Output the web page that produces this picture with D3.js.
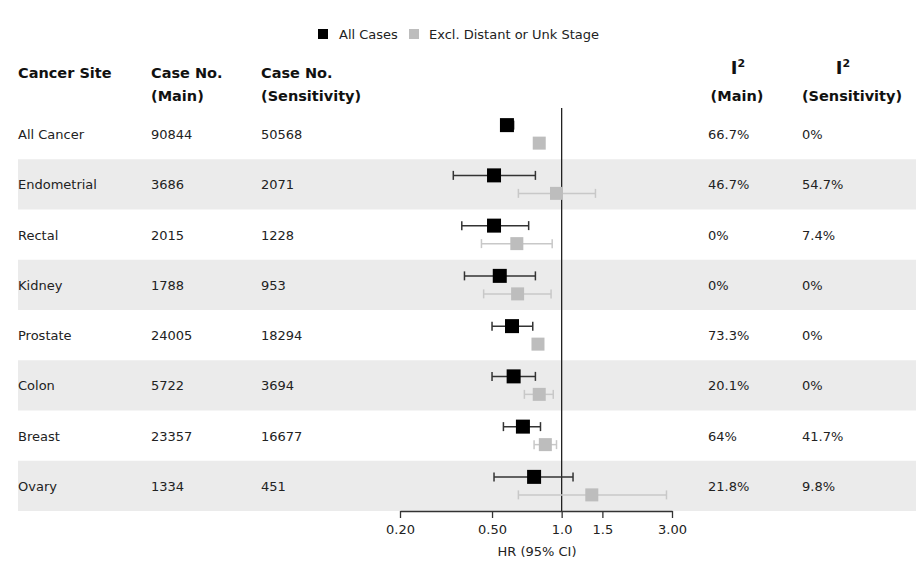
<!DOCTYPE html>
<html><head><meta charset="utf-8">
<script src="https://cdn.jsdelivr.net/npm/d3@7"></script>
<style>body{margin:0;background:#fff}svg{display:block;font-family:"DejaVu Sans",sans-serif}</style>
</head><body><svg id="c" width="918" height="579"></svg>
<script>
const sites = ["All Cancer","Endometrial","Rectal","Kidney","Prostate","Colon","Breast","Ovary"];
const casesMain = [90844,3686,2015,1788,24005,5722,23357,1334];
const casesSens = [50568,2071,1228,953,18294,3694,16677,451];
const i2Main = ["66.7%","46.7%","0%","0%","73.3%","20.1%","64%","21.8%"];
const i2Sens = ["0%","54.7%","7.4%","0%","0%","0%","41.7%","9.8%"];
const hrMain = [0.58,0.51,0.51,0.54,0.61,0.62,0.68,0.76];
const loMain = [0.55,0.34,0.37,0.38,0.50,0.50,0.56,0.51];
const hiMain = [0.62,0.77,0.72,0.77,0.75,0.77,0.81,1.12];
const hrSens = [0.80,0.95,0.64,0.645,0.79,0.80,0.85,1.35];
const loSens = [0.78,0.65,0.45,0.46,0.775,0.69,0.76,0.65];
const hiSens = [0.82,1.40,0.91,0.90,0.805,0.92,0.95,2.84];
const tickVals = [0.2,0.5,1.0,1.5,3.0];
const tickLabels = ["0.20","0.50","1.0","1.5","3.00"];
const seriesNames = ["All Cases","Excl. Distant or Unk Stage"];

const svg = d3.select("#c");
const x = d3.scaleLog().domain([0.2,3]).range([400,672]);
const y = d3.scaleBand().domain(sites).range([109,511]);
const off = 9;

// bands
svg.selectAll("rect.band").data(sites.filter((d,i)=>i%2===1)).enter().append("rect")
  .attr("x",18).attr("width",898).attr("y",d=>y(d)).attr("height",y.bandwidth()).attr("fill","#ebebeb");

// ref line
svg.append("line").attr("x1",x(1)).attr("x2",x(1)).attr("y1",108).attr("y2",511).attr("stroke","#222").attr("stroke-width",1.3);

// legend
const lg = svg.append("g").attr("font-size",13).attr("fill","#222");
lg.append("rect").attr("x",318).attr("y",29).attr("width",10).attr("height",10).attr("fill","#000");
lg.append("text").attr("x",339).attr("y",39).text(seriesNames[0]);
lg.append("rect").attr("x",409).attr("y",29).attr("width",10).attr("height",10).attr("fill","#bdbdbd");
lg.append("text").attr("x",429).attr("y",39).text(seriesNames[1]);

// headers
const hd = svg.append("g").attr("font-size",14.5).attr("font-weight","bold").attr("fill","#111");
hd.append("text").attr("x",18).attr("y",78).text("Cancer Site");
hd.append("text").attr("x",151).attr("y",78).text("Case No.");
hd.append("text").attr("x",151).attr("y",101).text("(Main)");
hd.append("text").attr("x",261).attr("y",78).text("Case No.");
hd.append("text").attr("x",261).attr("y",101).text("(Sensitivity)");
[[737,738,"(Main)"],[852,843,"(Sensitivity)"]].forEach(([cx,ix,t])=>{
  const tt = hd.append("text").attr("x",ix).attr("y",74).attr("text-anchor","middle").attr("font-size",18);
  tt.append("tspan").text("I");
  tt.append("tspan").attr("font-size",11).attr("dy",-7).text("2");
  hd.append("text").attr("x",cx).attr("y",101).attr("text-anchor","middle").text(t);
});

// body text
const bt = svg.append("g").attr("font-size",13).attr("fill","#222");
sites.forEach((s,i)=>{
  const cy = y(s)+y.bandwidth()/2+5;
  bt.append("text").attr("x",18).attr("y",cy).text(s);
  bt.append("text").attr("x",151).attr("y",cy).text(casesMain[i]);
  bt.append("text").attr("x",261).attr("y",cy).text(casesSens[i]);
  bt.append("text").attr("x",708).attr("y",cy).text(i2Main[i]);
  bt.append("text").attr("x",802).attr("y",cy).text(i2Sens[i]);
});

function series(hr,lo,hi,dy,lineCol,fill,size){
  const g = svg.append("g");
  sites.forEach((s,i)=>{
    const cy = y(s)+y.bandwidth()/2+dy;
    g.append("line").attr("x1",x(lo[i])).attr("x2",x(hi[i])).attr("y1",cy).attr("y2",cy).attr("stroke",lineCol).attr("stroke-width",1.5);
    [lo[i],hi[i]].forEach(v=>g.append("line").attr("x1",x(v)).attr("x2",x(v)).attr("y1",cy-4.5).attr("y2",cy+4.5).attr("stroke",lineCol).attr("stroke-width",1.5));
    g.append("rect").attr("x",x(hr[i])-size/2).attr("y",cy-size/2).attr("width",size).attr("height",size).attr("fill",fill);
  });
}
series(hrSens,loSens,hiSens,off,"#c8c8c8","#bdbdbd",13);
series(hrMain,loMain,hiMain,-off,"#333","#000",14);

// axis
const ax = svg.append("g").attr("transform","translate(0,511)")
  .call(d3.axisBottom(x).tickValues(tickVals).tickFormat((d,i)=>tickLabels[i]).tickSize(7).tickSizeOuter(0));
ax.select(".domain").attr("stroke","#333").attr("stroke-width",1.3);
ax.selectAll(".tick line").attr("stroke","#333").attr("stroke-width",1.3);
ax.selectAll(".tick text").attr("font-size",13).attr("fill","#222").attr("font-family","DejaVu Sans").attr("y",11).attr("dy","0.95em");
svg.append("text").attr("x",537).attr("y",556).attr("text-anchor","middle").attr("font-size",13).attr("fill","#222").text("HR (95% CI)");
</script></body></html>
